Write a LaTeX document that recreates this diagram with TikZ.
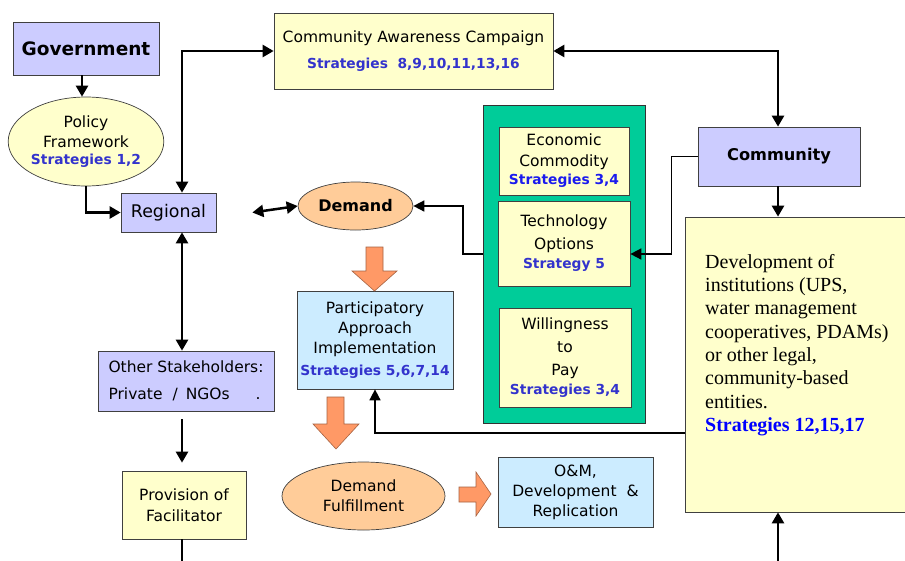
\documentclass[tikz,border=0pt]{standalone}
\usepackage{fontspec}
\setmainfont{DejaVu Sans}
\newfontfamily\tms{Liberation Serif}
\usetikzlibrary{arrows.meta,shapes.geometric,calc}
\definecolor{lav}{HTML}{CCCCFF}
\definecolor{lyel}{HTML}{FFFFCC}
\definecolor{lblu}{HTML}{CCECFF}
\definecolor{peach}{HTML}{FFCC99}
\definecolor{orng}{HTML}{FF9966}
\definecolor{grn}{HTML}{00CC99}
\definecolor{strb}{HTML}{3333CC}
\definecolor{strd}{HTML}{1A1AEE}
\newcommand\strat[1]{{\color{strb}\bfseries\fontsize{13.8}{16}\selectfont #1}}
\newcommand\stratd[1]{{\color{strd}\bfseries\fontsize{13.8}{16}\selectfont #1}}
\tikzset{
  box/.style={draw=black!75, line width=0.7pt, inner sep=0pt, align=center,
    font=\fontsize{15.5}{20}\selectfont},
  oval/.style={ellipse, draw=black!75, line width=0.7pt, inner sep=0pt, align=center,
    font=\fontsize{15.5}{20}\selectfont},
  arr/.style={line width=2.5pt, -{Triangle[length=11pt,width=12pt]}},
  darr/.style={line width=2.5pt, {Triangle[length=11pt,width=12pt]}-{Triangle[length=11pt,width=12pt]}},
  thinarr/.style={line width=1.6pt, -{Triangle[length=11pt,width=11pt]}},
  blockarr/.style={fill=orng, draw=orng!65!black, line width=0.6pt, line join=miter},
}
\begin{document}
\begin{tikzpicture}[x=1pt,y=-1pt]
\fill[white] (0,0) rectangle (905,560);
\useasboundingbox (0,0) rectangle (905,560);

% green container
\node[draw=black!80, line width=1pt, fill=grn, minimum width=162pt, minimum height=318pt, inner sep=0pt] (green) at (564,264) {};

% nodes
\node[box, fill=lav, minimum width=146pt, minimum height=53pt,
  font=\bfseries\fontsize{18.5}{22}\selectfont] (gov) at (86,48.5) {Government};
\node[oval, fill=lyel, minimum width=146pt, minimum height=89pt] (policy) at (86,141.5)
  {Policy\\Framework\\[-3pt]\strat{Strategies 1,2}};
\node[box, fill=lyel, minimum width=279pt, minimum height=76pt] (cac) at (413.5,51)
  {Community Awareness Campaign\\[6pt]\strat{Strategies~~8,9,10,11,13,16}};
\node[box, fill=lav, minimum width=95pt, minimum height=39pt,
  font=\fontsize{17.4}{20}\selectfont] (regional) at (168.5,212.5) {Regional};
\node[oval, fill=peach, minimum width=115pt, minimum height=48pt,
  font=\bfseries\fontsize{16}{18}\selectfont] (demand) at (355.5,206) {Demand};
\node[box, fill=lav, minimum width=162pt, minimum height=59pt,
  font=\bfseries\fontsize{16.2}{20}\selectfont] (community) at (779,156.5) {Community};
\node[box, fill=lyel, minimum width=130pt, minimum height=68pt,
  font=\fontsize{15.5}{21}\selectfont] (econ) at (564,161)
  {Economic\\Commodity\\[-3pt]\stratd{Strategies 3,4}};
\node[box, fill=lyel, minimum width=132pt, minimum height=85pt,
  font=\fontsize{15.5}{23}\selectfont] (tech) at (564,243.5)
  {Technology\\Options\\[-4pt]\strat{Strategy 5}};
\node[box, fill=lyel, minimum width=132pt, minimum height=99pt,
  font=\fontsize{15.5}{23}\selectfont] (will) at (565,357.5)
  {Willingness\\to\\Pay\\[-4pt]\strat{Strategies 3,4}};
\node[box, fill=lblu, minimum width=156pt, minimum height=98pt] (part) at (375,340)
  {Participatory\\Approach\\Implementation\\[2pt]\strat{Strategies 5,6,7,14}};
\node[box, fill=lyel, minimum width=225pt, minimum height=295pt] (dev) at (797.5,364.5) {};
\node[anchor=north west, inner sep=0pt, align=left,
  font=\tms\fontsize{20}{23.3}\selectfont] (devtext) at (705,254)
  {Development of\\institutions (UPS,\\water management\\cooperatives, PDAMs)\\or other legal,\\community-based\\entities.\\{\color{blue}\bfseries Strategies 12,15,17}};
\node[box, fill=lav, minimum width=176pt, minimum height=60pt, align=left] (other) at (186,381)
  {Other Stakeholders:\\[7pt]Private\hspace{10pt}/\hspace{8pt}NGOs\hspace{26pt}.};
\node[box, fill=lyel, minimum width=124pt, minimum height=68pt,
  font=\fontsize{15.5}{21}\selectfont] (prov) at (184,505) {Provision of\\Facilitator};
\node[oval, fill=peach, minimum width=163pt, minimum height=68pt] (dfull) at (363.5,496)
  {Demand\\Fulfillment};
\node[box, fill=lblu, minimum width=155pt, minimum height=70pt] (om) at (575.5,492)
  {O\&M,\\Development\hspace{10pt}\&\\Replication};

% helper coordinates
\coordinate (vx) at (182,0);
\coordinate (cx) at (778,0);
\coordinate (bot) at (778,566);
\coordinate (jx) at (463,0);

% connectors
\draw[arr] ([xshift=-4pt]gov.south) -- ([xshift=-4pt]gov.south |- policy.north);
\draw[arr] (policy.south) |- (regional.west);
\draw[darr] (regional.north -| vx) |- (cac.west);
\draw[darr] (cac.east) -| (cx |- community.north);
\draw[arr] (cx |- community.south) -- (cx |- dev.north);
\draw[arr] (bot) -- (bot |- dev.south);
\draw[thinarr] (community.west) -- ++(-26,0) |- ([yshift=-10.5pt]tech.east);
\draw[thinarr] ([yshift=-10.5pt]tech.east -| green.west) -| (jx |- demand.east) -- (demand.east);
\draw[darr] ([xshift=36pt]regional.east) -- (demand.west);
\draw[darr] (regional.south -| vx) -- (other.north -| vx);
\draw[arr] ($(other.south -| vx)+(0,8)$) -- ($(prov.north -| vx)+(0,-8)$);
\draw[line width=2.5pt] (prov.south -| vx) -- ++(0,25);
\draw[thinarr] ([yshift=-68.5pt]dev.west) -| (part.south);

% block arrows
\draw[blockarr] (366,247) -- (383,247) -- (383,271) -- (397,271) -- (374.5,291) -- (352,271) -- (366,271) -- cycle;
\draw[blockarr] (327,397) -- (344,397) -- (344,424) -- (359,424) -- (336,449) -- (313,424) -- (327,424) -- cycle;
\draw[blockarr] (459,487) -- (476,487) -- (476,472) -- (491,494) -- (476,516) -- (476,502) -- (459,502) -- cycle;
\end{tikzpicture}
\end{document}
